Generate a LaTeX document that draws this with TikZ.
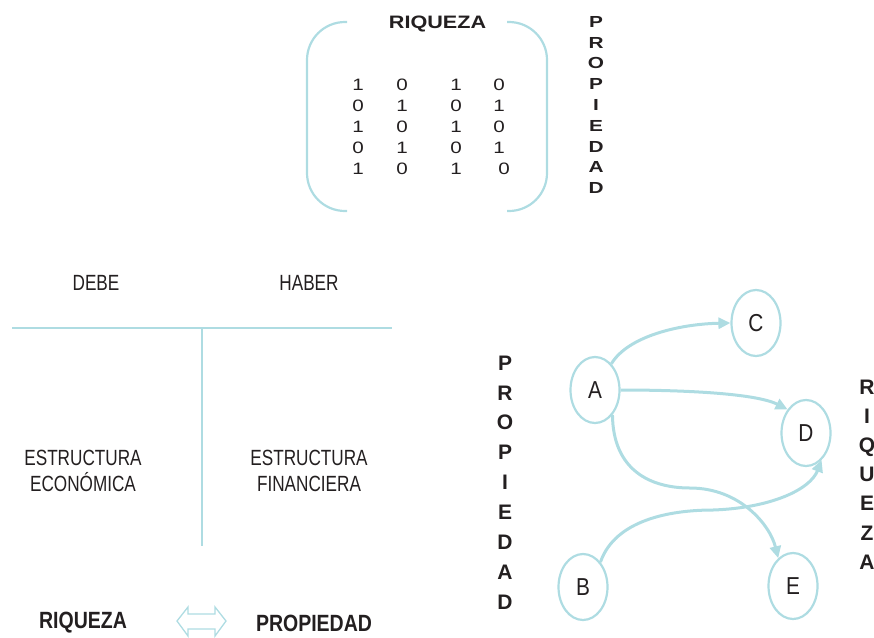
\documentclass[tikz,border=0pt]{standalone}
\usepackage{fontspec}
\usepackage{graphicx}
\setmainfont{Liberation Sans}
\usetikzlibrary{shapes.geometric,arrows.meta}
\definecolor{lb}{RGB}{174,220,226}
\definecolor{ink}{RGB}{35,31,32}
\newcommand\nx[2]{\scalebox{#1}[1]{#2}}
\newcommand\nm[1]{\scalebox{1.25}[1]{#1}}
\begin{document}
\begin{tikzpicture}[x=1pt,y=-1pt,
  lbline/.style={draw=lb,line width=2.2pt},
  txt/.style={text=ink,inner sep=0pt,font=\fontsize{22}{26}\selectfont,align=center},
  num/.style={text=ink,inner sep=0pt,font=\fontsize{16.5}{20}\selectfont},
  vert/.style={text=ink,inner sep=0pt,align=center},
  circ/.style={ellipse,draw=lb,line width=2.2pt,minimum width=49pt,minimum height=66pt,inner sep=0pt,text=ink,font=\fontsize{24.5}{28}\selectfont},
  arr/.style={draw=lb,line width=3pt,-{Triangle[length=12pt,width=11pt]}}]
\path[use as bounding box] (0,0) rectangle (874,637);

% ---- top matrix
\draw[lbline,rounded corners=38pt] (347,22) -- (307,22) -- (307,211) -- (347,211);
\draw[lbline,rounded corners=38pt] (507,22) -- (547,22) -- (547,211) -- (507,211);
\node[text=ink,inner sep=0pt,font=\fontsize{18}{20}\selectfont\bfseries] (riq) at (437.5,23.5) {\nx{1.2}{RIQUEZA}};
\node[num] (m11) at (358,85) {\nm{1}}; \node[num] (m12) at (402,85) {\nm{0}}; \node[num] (m13) at (456,85) {\nm{1}}; \node[num] (m14) at (499,85) {\nm{0}};
\node[num] (m21) at (358,106) {\nm{0}}; \node[num] (m22) at (402,106) {\nm{1}}; \node[num] (m23) at (456,106) {\nm{0}}; \node[num] (m24) at (499,106) {\nm{1}};
\node[num] (m31) at (358,127) {\nm{1}}; \node[num] (m32) at (402,127) {\nm{0}}; \node[num] (m33) at (456,127) {\nm{1}}; \node[num] (m34) at (499,127) {\nm{0}};
\node[num] (m41) at (358,148) {\nm{0}}; \node[num] (m42) at (402,148) {\nm{1}}; \node[num] (m43) at (456,148) {\nm{0}}; \node[num] (m44) at (499,148) {\nm{1}};
\node[num] (m51) at (358,169) {\nm{1}}; \node[num] (m52) at (402,169) {\nm{0}}; \node[num] (m53) at (456,169) {\nm{1}}; \node[num] (m54) at (504,169) {\nm{0}};
\node[vert,font=\fontsize{16}{20.8}\selectfont\bfseries] (prop1) at (596,105) {\nx{1.3}{P}\\\nx{1.3}{R}\\\nx{1.3}{O}\\\nx{1.3}{P}\\\nx{1.3}{I}\\\nx{1.3}{E}\\\nx{1.3}{D}\\\nx{1.3}{A}\\\nx{1.3}{D}};

% ---- T account
\draw[lbline] (12,328) coordinate (hl) -- (392,328) coordinate (hr);
\draw[lbline] (202,328) coordinate (vt) -- (202,546) coordinate (vb);
\node[txt] (debe) at (96,283) {\nx{0.78}{DEBE}};
\node[txt] (haber) at (309,283) {\nx{0.78}{HABER}};
\node[txt] (eco) at (83,471) {\nx{0.78}{ESTRUCTURA}\\\nx{0.78}{ECONÓMICA}};
\node[txt] (fin) at (309,471) {\nx{0.78}{ESTRUCTURA}\\\nx{0.78}{FINANCIERA}};
\node[text=ink,inner sep=0pt,font=\fontsize{23.5}{26}\selectfont\bfseries] (riq2) at (83,623) {\nx{0.83}{RIQUEZA}};
\node[text=ink,inner sep=0pt,font=\fontsize{23.5}{26}\selectfont\bfseries] (prop2) at (314,623) {\nx{0.83}{PROPIEDAD}};
\draw[draw=lb,line width=1.3pt,line join=miter] (177,621) -- (188,607) -- (188,614) -- (215,614) -- (215,607) -- (226,621) -- (215,636) -- (215,629) -- (188,629) -- (188,636) -- cycle;

% ---- graph
\node[vert,font=\fontsize{21}{29.9}\selectfont\bfseries] (prop3) at (505,482.5) {P\\R\\O\\P\\I\\E\\D\\A\\D};
\node[vert,font=\fontsize{21}{29.2}\selectfont\bfseries] (riq3) at (867,474.5) {R\\I\\Q\\U\\E\\Z\\A};
\node[circ] (A) at (595,390) {\nx{0.85}{A}};
\node[circ] (C) at (756,323) {\nx{0.85}{C}};
\node[circ] (D) at (806,433) {\nx{0.85}{D}};
\node[circ] (B) at (583,587) {\nx{0.85}{B}};
\node[circ] (E) at (793,586) {\nx{0.85}{E}};
\draw[arr] (A.58) .. controls (628,336) and (680,324) .. (C.west);
\draw[arr] (A.east) .. controls (680,390) and (755,393) .. (D.128);
\draw[arr] (A.-55) .. controls (613,470) and (650,488) .. (690,488) .. controls (740,488) and (770,525) .. (E.118);
\draw[arr] (B.55) .. controls (615,520) and (670,510) .. (713,510) .. controls (770,508) and (810,490) .. (D.-60);
\end{tikzpicture}
\end{document}
